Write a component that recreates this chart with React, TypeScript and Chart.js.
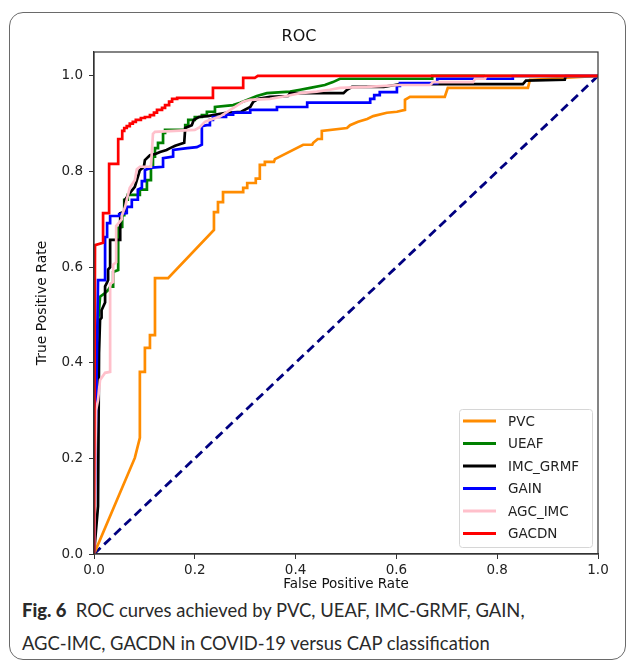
import React, { useEffect, useRef } from 'react';
import { Chart, registerables } from 'chart.js';

Chart.register(...registerables);

const FONT = 'DejaVu Sans';

const seriesLabels = ['PVC', 'UEAF', 'IMC_GRMF', 'GAIN', 'AGC_IMC', 'GACDN'];
const seriesColors = ['#ff8c00', '#008000', '#000000', '#0000ff', '#ffc0cb', '#ff0000'];

const pvcRoc: [number, number][] = [
  [0, 0], [0.081, 0.201], [0.091, 0.243], [0.091, 0.381], [0.101, 0.381], [0.101, 0.431],
  [0.111, 0.431], [0.111, 0.458], [0.121, 0.458], [0.121, 0.577], [0.147, 0.577], [0.238, 0.678],
  [0.238, 0.715], [0.246, 0.715], [0.246, 0.736], [0.256, 0.736], [0.256, 0.757], [0.296, 0.757],
  [0.296, 0.766], [0.304, 0.766], [0.304, 0.776], [0.321, 0.776], [0.321, 0.785], [0.329, 0.785],
  [0.329, 0.814], [0.339, 0.814], [0.339, 0.82], [0.357, 0.82], [0.359, 0.826], [0.415, 0.856],
  [0.433, 0.856], [0.435, 0.86], [0.444, 0.868], [0.452, 0.868], [0.452, 0.885], [0.502, 0.891],
  [0.508, 0.897], [0.524, 0.904], [0.542, 0.91], [0.554, 0.916], [0.581, 0.923], [0.601, 0.925],
  [0.617, 0.929], [0.617, 0.95], [0.627, 0.956], [0.696, 0.956], [0.702, 0.975], [0.861, 0.975],
  [0.865, 0.992], [0.87, 0.992], [1, 1],
];

const ueafRoc: [number, number][] = [
  [0, 0], [0.004, 0.427], [0.012, 0.538], [0.022, 0.546], [0.028, 0.552], [0.032, 0.559],
  [0.038, 0.559], [0.038, 0.59], [0.048, 0.594], [0.048, 0.682], [0.056, 0.684], [0.056, 0.709],
  [0.06, 0.709], [0.06, 0.741], [0.067, 0.741], [0.067, 0.751], [0.091, 0.751], [0.091, 0.762],
  [0.105, 0.762], [0.105, 0.782], [0.113, 0.782], [0.113, 0.81], [0.117, 0.81], [0.117, 0.831],
  [0.121, 0.831], [0.121, 0.849], [0.127, 0.849], [0.127, 0.86], [0.137, 0.86], [0.137, 0.881],
  [0.141, 0.881], [0.141, 0.887], [0.181, 0.887], [0.181, 0.897], [0.187, 0.897], [0.187, 0.908],
  [0.2, 0.908], [0.2, 0.914], [0.214, 0.914], [0.214, 0.918], [0.224, 0.918], [0.224, 0.925],
  [0.24, 0.925], [0.24, 0.935], [0.276, 0.939], [0.29, 0.944], [0.323, 0.958], [0.343, 0.964],
  [0.389, 0.967], [0.409, 0.971], [0.429, 0.975], [0.458, 0.981], [0.474, 0.987], [0.488, 0.994],
  [0.671, 0.994], [0.671, 1], [1, 1],
];

const imcRoc: [number, number][] = [
  [0, 0], [0.008, 0.1], [0.01, 0.42], [0.012, 0.49], [0.015, 0.494], [0.015, 0.51],
  [0.022, 0.526], [0.022, 0.56], [0.026, 0.568], [0.028, 0.573], [0.028, 0.595], [0.032, 0.6],
  [0.032, 0.657], [0.052, 0.657], [0.052, 0.713], [0.061, 0.716], [0.061, 0.74], [0.071, 0.755],
  [0.081, 0.768], [0.087, 0.789], [0.091, 0.803], [0.099, 0.81], [0.101, 0.824], [0.111, 0.834],
  [0.123, 0.837], [0.131, 0.841], [0.144, 0.845], [0.151, 0.849], [0.161, 0.854], [0.179, 0.86],
  [0.181, 0.891], [0.194, 0.897], [0.198, 0.908], [0.208, 0.914], [0.226, 0.916], [0.236, 0.918],
  [0.262, 0.923], [0.292, 0.925], [0.31, 0.935], [0.316, 0.946], [0.326, 0.952], [0.349, 0.956],
  [0.385, 0.958], [0.389, 0.964], [0.495, 0.964], [0.502, 0.971], [0.512, 0.977], [0.575, 0.977],
  [0.597, 0.981], [0.607, 0.983], [0.851, 0.983], [0.857, 0.99], [0.934, 0.992], [0.936, 1], [1, 1],
];

const gainRoc: [number, number][] = [
  [0, 0], [0.006, 0.427], [0.008, 0.573], [0.022, 0.573], [0.022, 0.663], [0.026, 0.663],
  [0.026, 0.692], [0.032, 0.692], [0.032, 0.707], [0.05, 0.707], [0.05, 0.711], [0.065, 0.713],
  [0.065, 0.726], [0.075, 0.726], [0.075, 0.741], [0.087, 0.741], [0.087, 0.762], [0.095, 0.766],
  [0.095, 0.78], [0.101, 0.78], [0.101, 0.803], [0.115, 0.808], [0.137, 0.81], [0.137, 0.828],
  [0.157, 0.831], [0.157, 0.845], [0.185, 0.849], [0.204, 0.851], [0.214, 0.856], [0.214, 0.895],
  [0.224, 0.897], [0.23, 0.897], [0.23, 0.908], [0.236, 0.908], [0.236, 0.914], [0.262, 0.914],
  [0.262, 0.919], [0.276, 0.919], [0.276, 0.923], [0.31, 0.923], [0.31, 0.929], [0.363, 0.929],
  [0.363, 0.935], [0.423, 0.935], [0.423, 0.944], [0.548, 0.944], [0.548, 0.952], [0.556, 0.952],
  [0.556, 0.96], [0.567, 0.96], [0.567, 0.966], [0.601, 0.966], [0.601, 0.979], [0.607, 0.979],
  [0.607, 0.985], [0.681, 0.985], [0.681, 0.994], [0.831, 0.994], [0.831, 1], [1, 1],
];

const agcRoc: [number, number][] = [
  [0, 0], [0.004, 0.3], [0.008, 0.322], [0.012, 0.364], [0.022, 0.379], [0.032, 0.381],
  [0.032, 0.565], [0.038, 0.569], [0.038, 0.605], [0.044, 0.61], [0.044, 0.686], [0.055, 0.7],
  [0.055, 0.707], [0.062, 0.727], [0.065, 0.741], [0.071, 0.766], [0.081, 0.782], [0.085, 0.805],
  [0.091, 0.81], [0.113, 0.81], [0.117, 0.879], [0.121, 0.883], [0.2, 0.887], [0.21, 0.893],
  [0.22, 0.904], [0.23, 0.908], [0.25, 0.915], [0.262, 0.923], [0.296, 0.946], [0.31, 0.95],
  [0.349, 0.952], [0.382, 0.958], [0.409, 0.964], [0.442, 0.967], [0.468, 0.971], [0.488, 0.975],
  [0.542, 0.977], [0.607, 0.981], [0.667, 0.981], [0.673, 0.987], [0.752, 0.987], [0.756, 0.994],
  [0.776, 0.994], [0.778, 1], [1, 1],
];

const gacdnRoc: [number, number][] = [
  [0, 0], [0.002, 0.646], [0.018, 0.651], [0.018, 0.713], [0.03, 0.713], [0.03, 0.816],
  [0.048, 0.816], [0.048, 0.868], [0.056, 0.868], [0.056, 0.885], [0.06, 0.885], [0.06, 0.891],
  [0.065, 0.891], [0.065, 0.895], [0.071, 0.895], [0.071, 0.9], [0.077, 0.9], [0.077, 0.904],
  [0.083, 0.904], [0.083, 0.908], [0.093, 0.908], [0.093, 0.912], [0.101, 0.912], [0.101, 0.914],
  [0.111, 0.914], [0.111, 0.918], [0.119, 0.918], [0.119, 0.923], [0.125, 0.923], [0.125, 0.929],
  [0.135, 0.929], [0.135, 0.933], [0.141, 0.933], [0.141, 0.939], [0.149, 0.939], [0.149, 0.946],
  [0.155, 0.946], [0.155, 0.952], [0.165, 0.952], [0.165, 0.954], [0.236, 0.954], [0.236, 0.975],
  [0.296, 0.975], [0.296, 0.996], [0.319, 0.996], [0.325, 1], [1, 1],
];

const seriesRoc = [pvcRoc, ueafRoc, imcRoc, gainRoc, agcRoc, gacdnRoc];
const chanceLine: [number, number][] = [[0, 0], [1, 1]];

const xTicks = [0, 0.2, 0.4, 0.6, 0.8, 1.0];
const yTicks = [0, 0.2, 0.4, 0.6, 0.8, 1.0];

const frameBox = {
  id: 'frameBox',
  afterDatasetsDraw(chart: any) {
    const { ctx, chartArea: a } = chart;
    ctx.save();
    ctx.strokeStyle = '#333';
    ctx.lineWidth = 1.2;
    ctx.strokeRect(a.left, a.top, a.right - a.left, a.bottom - a.top);
    ctx.restore();
  },
};

const boxLegend = {
  id: 'boxLegend',
  afterDraw(chart: any) {
    const { ctx, chartArea: a } = chart;
    const items = chart.data.datasets.filter((d: any) => d.inLegend);
    const w = 133;
    const h = 138;
    const x = a.right - 6 - w;
    const y = a.bottom - 7 - h;
    ctx.save();
    ctx.fillStyle = 'rgba(255,255,255,0.85)';
    ctx.strokeStyle = '#d6d6d6';
    ctx.lineWidth = 1;
    ctx.beginPath();
    (ctx as any).roundRect(x + 0.5, y + 0.5, w, h, 3);
    ctx.fill();
    ctx.stroke();
    ctx.font = `13.5px "${FONT}"`;
    ctx.textBaseline = 'middle';
    ctx.textAlign = 'left';
    items.forEach((d: any, i: number) => {
      const cy = y + 12 + i * 22.5;
      ctx.strokeStyle = d.borderColor;
      ctx.lineWidth = 2.8;
      ctx.beginPath();
      ctx.moveTo(x + 4, cy);
      ctx.lineTo(x + 37, cy);
      ctx.stroke();
      ctx.fillStyle = '#222';
      ctx.fillText(d.label, x + 49, cy + 1);
    });
    ctx.restore();
  },
};

export default function App() {
  const ref = useRef<HTMLCanvasElement | null>(null);

  useEffect(() => {
    if (!ref.current) return;
    const datasets: any[] = seriesLabels.map((label, i) => ({
      label,
      inLegend: true,
      data: seriesRoc[i].map(([x, y]) => ({ x, y })),
      borderColor: seriesColors[i],
      backgroundColor: seriesColors[i],
      borderWidth: 2.7,
      pointRadius: 0,
      showLine: true,
      tension: 0,
      fill: false,
      order: seriesLabels.length - 1 - i,
    }));
    datasets.push({
      label: 'chance',
      inLegend: false,
      data: chanceLine.map(([x, y]) => ({ x, y })),
      borderColor: '#000080',
      borderWidth: 2.8,
      borderDash: [9, 5],
      pointRadius: 0,
      showLine: true,
      fill: false,
      order: 10,
    });

    const tickFont = { family: FONT, size: 13.5 };
    const chart = new Chart(ref.current, {
      type: 'scatter',
      data: { datasets },
      plugins: [frameBox, boxLegend],
      options: {
        animation: false,
        responsive: false,
        layout: { padding: { left: 0, right: 32, top: 0, bottom: 0 } },
        plugins: {
          legend: { display: false },
          tooltip: { enabled: false },
          title: {
            display: true,
            text: 'ROC',
            color: '#111',
            font: { family: FONT, size: 16, weight: 'normal', lineHeight: 1.2 },
            padding: { top: 27.5, bottom: 5.3 },
          },
        },
        scales: {
          x: {
            type: 'linear',
            min: 0,
            max: 1,
            afterBuildTicks: (s: any) => { s.ticks = xTicks.map((v) => ({ value: v })); },
            afterFit: (s: any) => { s.height = 38; },
            ticks: {
              color: '#222',
              font: tickFont,
              padding: 3,
              maxRotation: 0,
              callback: (v: any) => Number(v).toFixed(1),
            },
            grid: { drawOnChartArea: false, drawTicks: true, tickLength: 5, color: '#333', lineWidth: 1 },
            border: { display: true, color: '#333', width: 1.2 },
            title: {
              display: true,
              text: 'False Positive Rate',
              color: '#111',
              font: { family: FONT, size: 13.5, lineHeight: 1 },
              padding: { top: 0, bottom: 0.5 },
            },
          },
          y: {
            type: 'linear',
            min: 0,
            max: 1.05,
            afterBuildTicks: (s: any) => { s.ticks = yTicks.map((v) => ({ value: v })); },
            afterFit: (s: any) => { s.width = 94; },
            ticks: {
              color: '#222',
              font: tickFont,
              padding: 6,
              callback: (v: any) => Number(v).toFixed(1),
            },
            grid: { drawOnChartArea: false, drawTicks: true, tickLength: 5, color: '#333', lineWidth: 1 },
            border: { display: true, color: '#333', width: 1.2 },
            title: {
              display: true,
              text: 'True Positive Rate',
              color: '#111',
              font: { family: FONT, size: 14, lineHeight: 1 },
              padding: { top: 35, bottom: 0 },
            },
          },
        },
      } as any,
    });
    return () => chart.destroy();
  }, []);

  return (
    <div style={{ position: 'absolute', left: 0, top: 0, width: 630, height: 666, overflow: 'hidden', background: '#fff' }}>
      <div
        style={{
          position: 'absolute',
          left: 9,
          top: 12,
          width: 617,
          height: 648,
          boxSizing: 'border-box',
          border: '1.5px solid #6a6a6a',
          borderRadius: 14,
        }}
      />
      <canvas ref={ref} width={630} height={592} style={{ position: 'absolute', left: 0, top: 0, width: 630, height: 592 }} />
      <div
        style={{
          position: 'absolute',
          left: 22,
          top: 594,
          fontFamily: 'Lato, "Open Sans", sans-serif',
          fontSize: 18.4,
          lineHeight: '33px',
          color: '#2a2a2a',
          whiteSpace: 'nowrap',
        }}
      >
        <div>
          <b style={{ fontWeight: 900 }}>Fig. 6</b>&nbsp;&nbsp;ROC curves achieved by PVC, UEAF, IMC-GRMF, GAIN,
        </div>
        <div>AGC-IMC, GACDN in COVID-19 versus CAP classification</div>
      </div>
    </div>
  );
}
